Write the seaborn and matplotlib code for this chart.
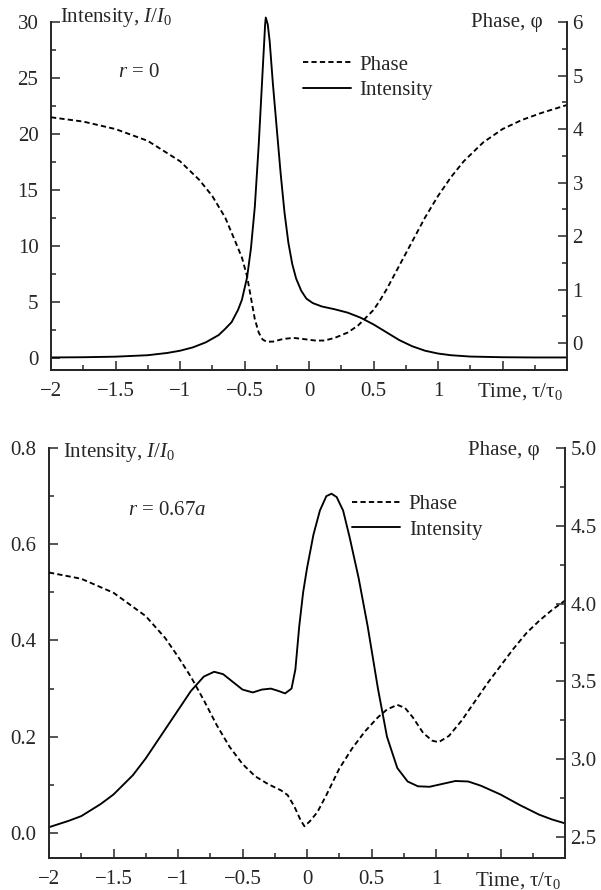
import numpy as np
import seaborn as sns
import matplotlib.pyplot as plt
from matplotlib.ticker import MultipleLocator, FormatStrFormatter

# Panel 1, r = 0
t_int1 = [-2.0, -1.75, -1.5, -1.25, -1.1, -1.0, -0.9, -0.8, -0.7, -0.65, -0.6, -0.55, -0.52,
          -0.48, -0.45, -0.42, -0.39, -0.36, -0.34, -0.335, -0.32, -0.305, -0.28, -0.25,
          -0.22, -0.19, -0.16, -0.13, -0.1, -0.06, -0.02, 0.03, 0.1, 0.2, 0.3, 0.4, 0.5,
          0.6, 0.7, 0.8, 0.9, 1.0, 1.1, 1.25, 1.5, 1.75, 2.0]
int1 = [0.05, 0.07, 0.12, 0.25, 0.45, 0.65, 0.95, 1.4, 2.05, 2.6, 3.2, 4.3, 5.2,
        7.2, 9.8, 13.5, 19.0, 25.5, 29.8, 30.4, 29.8, 28.3, 24.5, 20.5,
        16.5, 13.0, 10.3, 8.4, 7.1, 6.0, 5.3, 4.9, 4.6, 4.35, 4.05, 3.6, 3.0,
        2.3, 1.6, 1.05, 0.65, 0.4, 0.25, 0.13, 0.07, 0.05, 0.05]
t_ph1 = [-2.0, -1.75, -1.5, -1.25, -1.0, -0.85, -0.75, -0.65, -0.58, -0.52, -0.48, -0.45,
         -0.42, -0.39, -0.36, -0.33, -0.28, -0.2, -0.12, -0.05, 0.05, 0.12, 0.2, 0.3,
         0.38, 0.45, 0.5, 0.55, 0.6, 0.7, 0.8, 0.9, 1.0, 1.1, 1.2, 1.35, 1.5, 1.65, 1.8, 2.0]
ph1 = [4.22, 4.14, 4.0, 3.78, 3.4, 3.05, 2.75, 2.35, 1.95, 1.6, 1.25, 0.85,
       0.45, 0.2, 0.07, 0.03, 0.03, 0.08, 0.1, 0.08, 0.05, 0.05, 0.1, 0.2,
       0.33, 0.5, 0.62, 0.8, 1.0, 1.45, 1.9, 2.35, 2.75, 3.1, 3.4, 3.75, 4.0, 4.17, 4.3, 4.45]

# Panel 2, r = 0.67a
t_int2 = [-2.0, -1.85, -1.75, -1.6, -1.5, -1.35, -1.25, -1.1, -1.0, -0.9, -0.8, -0.72,
          -0.65, -0.58, -0.5, -0.42, -0.35, -0.28, -0.22, -0.17, -0.12, -0.09, -0.06,
          -0.03, 0.0, 0.05, 0.1, 0.15, 0.19, 0.23, 0.28, 0.33, 0.4, 0.47, 0.55, 0.62,
          0.7, 0.78, 0.86, 0.95, 1.05, 1.15, 1.25, 1.35, 1.5, 1.65, 1.8, 1.9, 2.0]
int2 = [0.012, 0.025, 0.035, 0.06, 0.08, 0.12, 0.155, 0.215, 0.255, 0.295, 0.325, 0.335,
        0.33, 0.315, 0.298, 0.292, 0.298, 0.3, 0.295, 0.29, 0.3, 0.34, 0.43,
        0.5, 0.55, 0.62, 0.67, 0.7, 0.705, 0.698, 0.67, 0.615, 0.53, 0.43, 0.3, 0.2,
        0.135, 0.107, 0.097, 0.096, 0.102, 0.108, 0.107, 0.098, 0.08, 0.058, 0.038, 0.028, 0.02]
t_ph2 = [-2.0, -1.75, -1.5, -1.25, -1.1, -1.0, -0.9, -0.8, -0.7, -0.6, -0.5, -0.4, -0.3,
         -0.2, -0.15, -0.1, -0.05, -0.02, 0.02, 0.08, 0.15, 0.25, 0.35, 0.45, 0.55, 0.62,
         0.7, 0.76, 0.82, 0.9, 0.97, 1.02, 1.1, 1.2, 1.3, 1.4, 1.5, 1.6, 1.7, 1.8, 1.9, 2.0]
ph2 = [4.2, 4.16, 4.07, 3.92, 3.78, 3.66, 3.53, 3.38, 3.22, 3.08, 2.97, 2.89, 2.84,
       2.8, 2.77, 2.7, 2.61, 2.57, 2.6, 2.66, 2.77, 2.94, 3.07, 3.18, 3.27, 3.32,
       3.35, 3.33, 3.27, 3.17, 3.12, 3.11, 3.15, 3.25, 3.37, 3.49, 3.6, 3.71, 3.81, 3.89, 3.96, 4.02]

x_ticks = [-2, -1.5, -1, -0.5, 0, 0.5, 1, 1.5, 2]
x_ticklabels = ["\u22122", "\u22121.5", "\u22121", "\u22120.5", "0", "0.5", "1", "", ""]

sns.set_style("ticks")
plt.rcParams['font.family'] = ['Liberation Serif', 'DejaVu Serif']
plt.rcParams['mathtext.fontset'] = 'custom'
plt.rcParams['mathtext.rm'] = 'Liberation Serif'
plt.rcParams['mathtext.it'] = 'Liberation Serif:italic'

FS = 15
LW = 1.35
DASH = (0, (2.8, 1.7))

fig = plt.figure(figsize=(6.01, 8.90), dpi=100)


def panel(rect, t_i, y_i, t_p, y_p, ylim_i, ylim_p, ystep_i, ystep_p, fmt_i, fmt_p,
          label_r, r_pos, leg_pos, lab_y):
    ax = fig.add_axes(rect)
    ax2 = ax.twinx()
    sns.lineplot(x=t_i, y=y_i, ax=ax, color="black", lw=LW, legend=False, clip_on=False)
    sns.lineplot(x=t_p, y=y_p, ax=ax2, color="black", lw=LW, linestyle=DASH, legend=False)

    ax.set_xlim(-2, 2)
    ax.set_ylim(*ylim_i)
    ax2.set_ylim(*ylim_p)
    ax.set_xticks(x_ticks)
    ax.set_xticklabels(x_ticklabels)
    ax.xaxis.set_minor_locator(MultipleLocator(0.25))
    ax.yaxis.set_major_locator(MultipleLocator(ystep_i))
    ax.yaxis.set_minor_locator(MultipleLocator(ystep_i / 2))
    ax2.yaxis.set_major_locator(MultipleLocator(ystep_p))
    ax2.yaxis.set_minor_locator(MultipleLocator(ystep_p / 2))
    if fmt_i:
        ax.yaxis.set_major_formatter(FormatStrFormatter(fmt_i))
    if fmt_p:
        ax2.yaxis.set_major_formatter(FormatStrFormatter(fmt_p))
    ax.set_xlabel("")
    ax.set_ylabel("")
    ax2.set_ylabel("")

    for a in (ax, ax2):
        a.spines["top"].set_visible(False)
        for s in a.spines.values():
            s.set_linewidth(1.4)
    ax.spines["right"].set_visible(False)
    ax2.spines["left"].set_visible(False)

    ax.tick_params(which="both", direction="in", width=1.1, labelsize=FS, pad=9,
                   top=False, right=False)
    ax.tick_params(which="major", length=6.5)
    ax.tick_params(which="minor", length=3.6)
    ax2.tick_params(which="both", direction="in", width=1.1, labelsize=FS, pad=4,
                    left=False, right=True)
    ax2.tick_params(which="major", length=6.5)
    ax2.tick_params(which="minor", length=3.6)

    ax.text(lab_y[0], lab_y[1], "Intensity, $I/I_0$", transform=ax.transAxes,
            fontsize=FS, ha="left", va="baseline")
    ax.text(lab_y[2], lab_y[3], "Phase, \u03c6", transform=ax.transAxes,
            fontsize=FS, ha="right", va="baseline")
    ax.text(0.992, lab_y[4], r"Time, $\mathrm{\tau/\tau_0}$", transform=ax.transAxes,
            fontsize=FS, ha="right", va="baseline")
    ax.text(r_pos[0], r_pos[1], label_r, fontsize=FS, ha="left", va="center")

    ax2.legend([ax2.lines[0], ax.lines[0]], ["Phase", "Intensity"],
               loc="upper left", bbox_to_anchor=leg_pos, frameon=False, fontsize=FS,
               borderpad=0, borderaxespad=0, handlelength=2.3, handletextpad=0.43,
               labelspacing=0.29)
    return ax, ax2


panel([51 / 601, (890 - 370) / 890, 516 / 601, 348 / 890],
      t_int1, int1, t_ph1, ph1, (-1.07, 30), (-0.5, 6), 5, 1, None, None,
      "$r$ = 0", (-1.48, 25.5), (0.488, 0.905),
      (0.017, 1.0, 0.953, 0.986, -0.075))

panel([49 / 601, (890 - 858) / 890, 516 / 601, 410 / 890],
      t_int2, int2, t_ph2, ph2, (-0.052, 0.8), (2.366, 5.0), 0.2, 0.5, "%.1f", "%.1f",
      "$r$ = 0.67$a$", (-1.39, 0.67), (0.587, 0.887),
      (0.027, 0.978, 0.951, 0.983, -0.066))

plt.savefig("out.png", dpi=100)
